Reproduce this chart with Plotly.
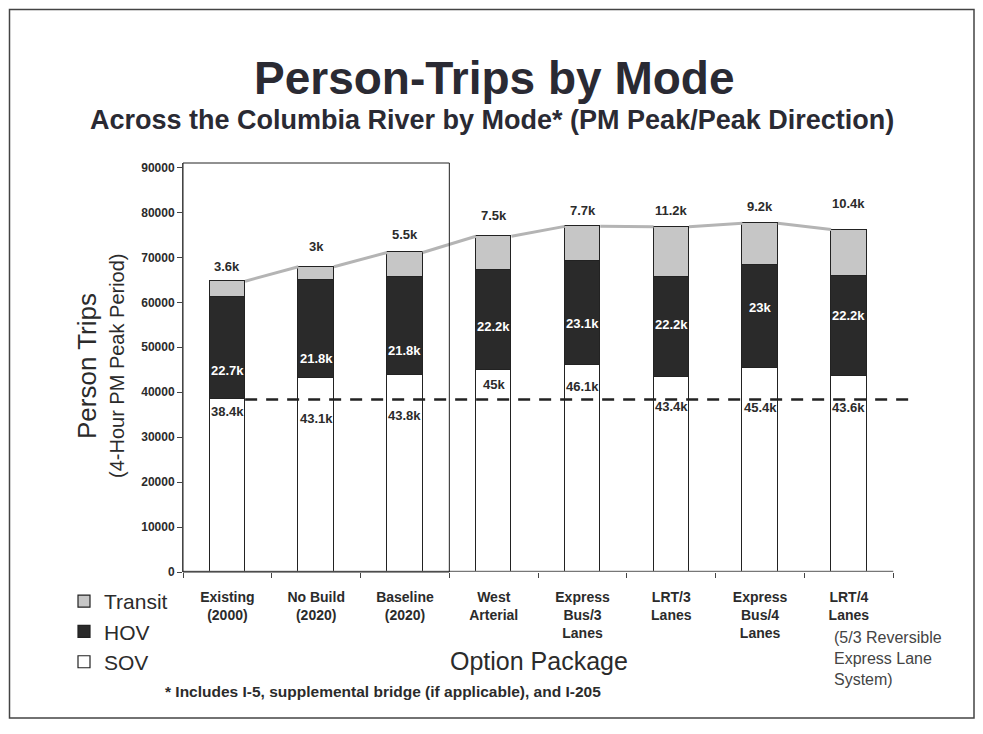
import plotly.graph_objects as go

categories = ["Existing<br>(2000)", "No Build<br>(2020)", "Baseline<br>(2020)", "West<br>Arterial",
              "Express<br>Bus/3<br>Lanes", "LRT/3<br>Lanes", "Express<br>Bus/4<br>Lanes", "LRT/4<br>Lanes"]
sov = [38400, 43100, 43800, 45000, 46100, 43400, 45400, 43600]
hov = [22700, 21800, 21800, 22200, 23100, 22200, 23000, 22200]
transit = [3600, 3000, 5500, 7500, 7700, 11200, 9200, 10400]
y_ticks = [0, 10000, 20000, 30000, 40000, 50000, 60000, 70000, 80000, 90000]

# label pixel offsets (style only)
sov_shift = [-12, -40, -40, -15, -22, -30, -40, -31]
hov_shift = [-22, -29, -24, -7, -11, 3, 9, 11]
tr_shift = [15, 20, 18, 21, 16, 16, 17, 26]

FONT = "Liberation Sans, Arial, sans-serif"
TXT = "#2b2b2b"
OFF = 8  # page body margin
W, H = 968, 720
L, R, T, B = 175, 65, 155, 156
PW, PH = W - L - R, H - T - B

def px(xp):
    return (xp - OFF - L) / PW

def py(yp):
    return (H - B - (yp - OFF)) / PH

x = list(range(len(categories)))
bw = 0.4
totals = [s + h + t for s, h, t in zip(sov, hov, transit)]

def k(v):
    return f"{v/1000:g}k"

fig = go.Figure()
fig.add_trace(go.Bar(x=x, y=sov, name="SOV", width=bw, legendgroup="s",
                     marker=dict(color="white", line=dict(color="#222", width=1.2))))
fig.add_trace(go.Bar(x=x, y=hov, name="HOV", width=bw, legendgroup="h",
                     marker=dict(color="#2a2a2a", line=dict(color="#222", width=1.2))))
fig.add_trace(go.Bar(x=x, y=transit, name="Transit", width=bw, legendgroup="t",
                     marker=dict(color="#c6c6c6", line=dict(color="#222", width=1.2))))

# series lines connecting bar tops
lx, ly = [], []
for i in range(len(x) - 1):
    lx += [x[i] + bw / 2, x[i + 1] - bw / 2, None]
    ly += [totals[i], totals[i + 1], None]
fig.add_trace(go.Scatter(x=lx, y=ly, mode="lines", line=dict(color="#b4b4b4", width=3),
                         showlegend=False, hoverinfo="skip"))

# dashed reference line at existing SOV level
fig.add_trace(go.Scatter(x=[x[0] + bw / 2, x[-1] + 0.69], y=[sov[0], sov[0]], mode="lines",
                         line=dict(color="#222", width=2.5, dash="12px,9px"),
                         showlegend=False, hoverinfo="skip"))

annos = []
lab_font = dict(family=FONT, size=13, color=TXT)
for i in x:
    annos.append(dict(x=i, y=sov[i], xref="x", yref="y", text=f"<b>{k(sov[i])}</b>",
                      showarrow=False, yshift=sov_shift[i], xanchor="center", yanchor="middle",
                      font=lab_font))
    annos.append(dict(x=i, y=sov[i] + hov[i] / 2, xref="x", yref="y",
                      text=f"<b>{k(hov[i])}</b>", showarrow=False, yshift=hov_shift[i],
                      xanchor="center", yanchor="middle",
                      font=dict(family=FONT, size=13, color="white")))
    annos.append(dict(x=i, y=totals[i], xref="x", yref="y", text=f"<b>{k(transit[i])}</b>",
                      showarrow=False, yshift=tr_shift[i], xanchor="center", yanchor="middle",
                      font=lab_font))

annos += [
    dict(text="<b>Person-Trips by Mode</b>", x=px(494), y=py(78), xref="paper", yref="paper",
         xanchor="center", yanchor="middle", showarrow=False,
         font=dict(family=FONT, size=46, color="#2a2a33")),
    dict(text="<b>Across the Columbia River by Mode* (PM Peak/Peak Direction)</b>",
         x=px(492), y=py(120), xref="paper", yref="paper", xanchor="center", yanchor="middle",
         showarrow=False, font=dict(family=FONT, size=27, color="#2a2a33")),
    dict(text="Person Trips", x=px(87), y=py(366), xref="paper", yref="paper",
         xanchor="center", yanchor="middle", showarrow=False, textangle=-90,
         font=dict(family=FONT, size=26, color=TXT)),
    dict(text="(4-Hour PM Peak Period)", x=px(117), y=py(366), xref="paper",
         yref="paper", xanchor="center", yanchor="middle", showarrow=False, textangle=-90,
         font=dict(family=FONT, size=20, color=TXT)),
    dict(text="Option Package", x=px(539), y=py(661), xref="paper", yref="paper",
         xanchor="center", yanchor="middle", showarrow=False,
         font=dict(family=FONT, size=25, color=TXT)),
    dict(text="<b>* Includes I-5, supplemental bridge (if applicable), and I-205</b>",
         x=px(163), y=py(691), xref="paper", yref="paper", xanchor="left", yanchor="middle",
         showarrow=False, font=dict(family=FONT, size=15.5, color=TXT)),
    dict(text="(5/3 Reversible<br>Express Lane<br>System)", x=px(832), y=py(627),
         xref="paper", yref="paper", xanchor="left", yanchor="top", align="left",
         showarrow=False, font=dict(family=FONT, size=16, color="#444")),
]

fig.update_layout(
    width=W, height=H, autosize=False,
    margin=dict(l=L, r=R, t=T, b=B, autoexpand=False),
    paper_bgcolor="white", plot_bgcolor="white",
    barmode="stack", bargap=0,
    font=dict(family=FONT, color=TXT),
    legend=dict(x=px(64), y=py(581), xanchor="left", yanchor="top", traceorder="reversed",
                font=dict(family=FONT, size=21, color=TXT), bgcolor="rgba(0,0,0,0)",
                itemwidth=30, tracegroupgap=5),
    xaxis=dict(range=[-0.5, 7.7], tickvals=x, ticktext=categories, ticks="",
               tickfont=dict(family=FONT, size=14, color=TXT, weight="bold"),
               showline=False, showgrid=False, zeroline=False,
               ticklabelstandoff=15,
               minor=dict(tickvals=[i - 0.5 for i in range(len(x) + 1)], ticks="outside",
                          ticklen=5, tickcolor="#444", showgrid=False)),
    yaxis=dict(range=[0, 91000], tickvals=y_ticks, tickformat="d", ticks="outside", ticklen=5,
               tickcolor="#444", tickfont=dict(family=FONT, size=12, color=TXT, weight="bold"),
               showline=True, linecolor="#444", linewidth=1, showgrid=False, zeroline=False),
    shapes=[
        dict(type="line", xref="x", yref="y", x0=-0.5, x1=7.5, y0=0, y1=0,
             line=dict(color="#777", width=2.5)),
        dict(type="rect", xref="x", yref="paper", x0=-0.5, x1=2.5, y0=0, y1=1,
             line=dict(color="#222", width=1)),
        dict(type="rect", xref="paper", yref="paper", x0=px(9.5), x1=px(974), y0=py(718),
             y1=py(9.5), line=dict(color="#444", width=1.5)),
    ],
    annotations=annos,
)

fig.write_html("out.html")
